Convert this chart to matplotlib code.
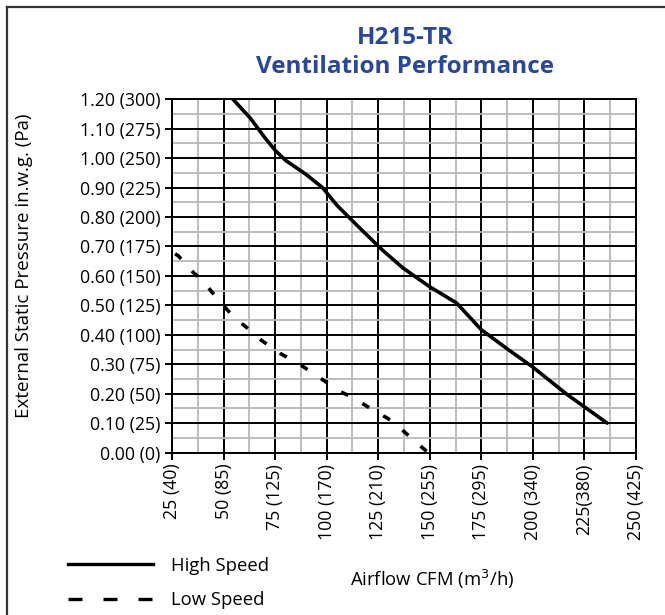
import matplotlib
matplotlib.use("Agg")
import matplotlib.pyplot as plt
from matplotlib.lines import Line2D
import numpy as np

plt.rcParams['font.family'] = ['Open Sans', 'DejaVu Sans']

# Data (airflow CFM, static pressure in.w.g.)
high_cfm = [54.6, 63, 70, 75, 80, 90, 98, 105, 116, 127, 137, 150, 163, 175, 188, 200, 216.6, 236]
high_p   = [1.20, 1.136, 1.07, 1.027, 0.993, 0.945, 0.90, 0.84, 0.763, 0.688, 0.627, 0.563, 0.508, 0.417, 0.35, 0.29, 0.197, 0.10]

low_cfm = [26.5, 28.1, 35.3, 39.9, 46.6, 55.1, 63.3, 68.2, 77.4, 87.5, 97.1, 106.5, 111.9, 121.9, 132.3, 138.8, 147.8, 149]
low_p   = [0.675, 0.668, 0.612, 0.584, 0.526, 0.459, 0.413, 0.382, 0.337, 0.297, 0.252, 0.207, 0.19, 0.147, 0.105, 0.063, 0.008, 0.0]

x_ticks = [25, 50, 75, 100, 125, 150, 175, 200, 225, 250]
x_labels = ["25 (40)", "50 (85)", "75 (125)", "100 (170)", "125 (210)", "150 (255)",
            "175 (295)", "200 (340)", "225(380)", "250 (425)"]
y_ticks = [0.0, 0.1, 0.2, 0.3, 0.4, 0.5, 0.6, 0.7, 0.8, 0.9, 1.0, 1.1, 1.2]
y_labels = ["0.00 (0)", "0.10 (25)", "0.20 (50)", "0.30 (75)", "0.40 (100)", "0.50 (125)",
            "0.60 (150)", "0.70 (175)", "0.80 (200)", "0.90 (225)", "1.00 (250)",
            "1.10 (275)", "1.20 (300)"]

title_color = "#2a4799"

fig = plt.figure(figsize=(6.65, 6.15), dpi=100)
ax = fig.add_axes([0.2586, 0.2642, 0.9564 - 0.2586, 0.8385 - 0.2642])

ax.set_xlim(25, 250)
ax.set_ylim(0, 1.2)

# grid
ax.set_xticks(x_ticks)
ax.set_xticks(np.arange(37.5, 250, 25), minor=True)
ax.set_yticks(y_ticks)
ax.set_yticks(np.arange(0.05, 1.2, 0.1), minor=True)
ax.grid(which='minor', color='#b8b8b8', linewidth=1.3)
ax.grid(which='major', color='black', linewidth=1.4)
ax.set_axisbelow(True)
for s in ax.spines.values():
    s.set_linewidth(1.4)
    s.set_color('black')

ax.tick_params(which='minor', length=0)
ax.tick_params(which='major', length=5, width=1.4, direction='out', color='black',
               labelsize=12.8, pad=3)

ax.set_xticklabels(x_labels, rotation=90, va='top', ha='center')
ax.set_yticklabels(y_labels)

lh, = ax.plot(high_cfm, high_p, color='black', linewidth=2.6, solid_capstyle='round')
ll, = ax.plot(low_cfm, low_p, color='black', linewidth=2.6, linestyle=(0, (2.2, 4.5)))

ax.set_ylabel("External Static Pressure in.w.g. (Pa)", fontsize=13.5)
ax.yaxis.set_label_coords(-0.30, 0.53)

fig.text(0.609, 0.938, "H215-TR", color=title_color, fontsize=17.5, fontweight='bold',
         ha='center', va='center')
fig.text(0.609, 0.891, "Ventilation Performance", color=title_color, fontsize=17.5,
         fontweight='bold', ha='center', va='center')

fig.text(0.650, 0.057, "Airflow CFM (m$^3$/h)", fontsize=13.3, ha='center', va='center')

h1 = Line2D([], [], color='black', linewidth=2.4)
h2 = Line2D([], [], color='black', linewidth=2.4, linestyle=(0, (4.2, 6.3)))
fig.legend([h1, h2], ["High Speed", "Low Speed"], loc='center left',
           bbox_to_anchor=(0.088, 0.052), frameon=False, fontsize=13.3,
           handlelength=4.6, handletextpad=1.0, labelspacing=0.9, borderpad=0)

# outer frame (top and left edges)
fig.add_artist(Line2D([0.0105, 1.0], [0.9886, 0.9886], transform=fig.transFigure,
                      color='#333333', linewidth=1.6))
fig.add_artist(Line2D([0.0105, 0.0105], [0.0, 0.9886], transform=fig.transFigure,
                      color='#333333', linewidth=1.6))

fig.savefig("out.png", dpi=100)
